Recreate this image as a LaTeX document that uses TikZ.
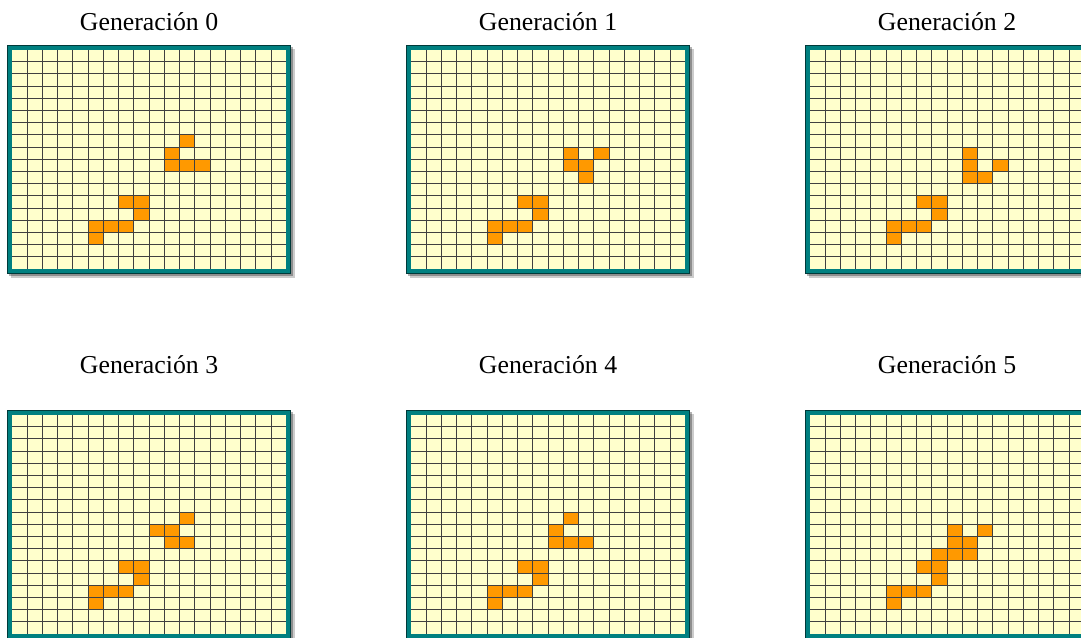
\documentclass[tikz,border=0pt]{standalone}
\usepackage{fontspec}
\setmainfont{Liberation Serif}
\definecolor{tealframe}{RGB}{0,128,128}
\definecolor{cellbg}{RGB}{255,255,204}
\definecolor{livecell}{RGB}{255,153,0}
\begin{document}
\begin{tikzpicture}[x=1pt,y=-1pt,
  frame/.style={draw=tealframe,line width=4.5pt},
  frameedge/.style={draw=tealframe!45!black,line width=0.8pt},
  gridline/.style={draw=black!75,line width=1.1pt},
  title/.style={anchor=base,font=\fontsize{25.8}{30}\selectfont}]
\useasboundingbox (0,0) rectangle (1081,637);
\clip (0,0) rectangle (1081,637);
% one board for each generation: number / live cells of the glider (col/row)
\foreach \g/\glider in {0/{11/7,10/8,10/9,11/9,12/9},
                        1/{10/8,12/8,10/9,11/9,11/10},
                        2/{10/8,10/9,12/9,10/10,11/10},
                        3/{11/8,9/9,10/9,10/10,11/10},
                        4/{10/8,9/9,9/10,10/10,11/10},
                        5/{9/9,11/9,9/10,10/10,8/11,9/11,10/11}}{
  \pgfmathsetmacro{\gx}{11.8+399*mod(\g,3)}
  \pgfmathsetmacro{\gy}{49.5+365*floor(\g/3)}
  \pgfmathsetmacro{\ty}{\g<3 ? 30 : 373}
  \node[title] (title\g) at (\gx+137.25,\ty) {Generación \g};
  \begin{scope}[shift={(\gx,\gy)}]
    \fill[black,opacity=0.3] (-2.5,-2.5) rectangle (281,226.1);
    \fill[black,opacity=0.2] (-0.5,-0.5) rectangle (283,228.1);
    \fill[cellbg] (0,0) rectangle (274.5,219.6);
    % the eater
    \foreach \c/\r in {7/12,8/12,8/13,5/14,6/14,7/14,5/15}
      \fill[livecell] (\c*15.25,\r*12.2) rectangle ++(15.25,12.2);
    \foreach \c/\r in \glider
      \fill[livecell] (\c*15.25,\r*12.2) rectangle ++(15.25,12.2);
    \foreach \i in {1,...,17}{
      \draw[gridline] (\i*15.25,0) -- ++(0,219.6);
      \draw[gridline] (0,\i*12.2) -- ++(274.5,0);
    }
    \draw[frame] (-2.25,-2.25) rectangle (276.75,221.85);
    \draw[frameedge] (-4.5,-4.5) rectangle (279,224.1);
  \end{scope}
}
\end{tikzpicture}
\end{document}
